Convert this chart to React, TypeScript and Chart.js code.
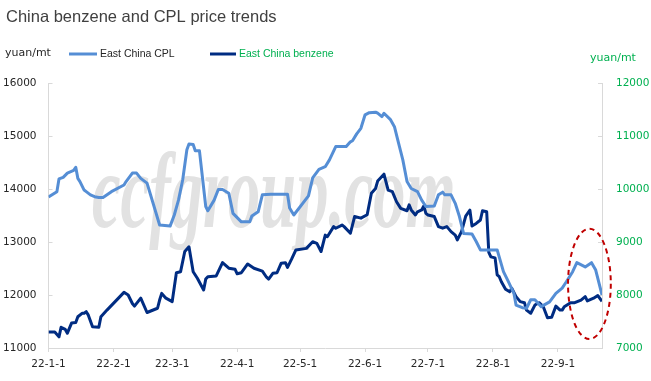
import React, { useEffect, useRef } from "react";
import { Chart, registerables } from "chart.js";

Chart.register(...registerables);

// x values are days counted from 2022-01-01
const monthTickDays = [0, 31, 59, 90, 120, 151, 181, 212, 243];
const monthTickLabels = ["22-1-1", "22-2-1", "22-3-1", "22-4-1", "22-5-1", "22-6-1", "22-7-1", "22-8-1", "22-9-1"];

const cplDays = [0, 4, 5, 7, 9, 12, 13, 14, 15, 17, 18, 20, 22, 24, 26, 30, 36, 37, 40, 42, 44, 47, 53, 58, 60, 62, 64, 66, 67, 69, 70, 72, 75, 76, 79, 81, 83, 86, 88, 92, 96, 97, 100, 102, 106, 114, 115, 117, 124, 126, 129, 132, 134, 137, 142, 144, 145, 147, 149, 151, 153, 156, 157, 159, 160, 163, 165, 167, 169, 171, 173, 176, 178, 180, 184, 186, 188, 189, 192, 194, 196, 198, 202, 204, 206, 214, 217, 219, 222, 223, 226, 228, 230, 232, 235, 239, 242, 245, 247, 250, 252, 256, 259, 261, 264];
const cplValues = [13850, 13950, 14190, 14220, 14300, 14350, 14410, 14200, 14140, 13980, 13950, 13890, 13855, 13840, 13840, 13950, 14075, 14140, 14300, 14300, 14200, 14110, 13320, 13300, 13510, 13790, 14170, 14740, 14850, 14840, 14720, 14720, 13670, 13590, 13790, 13990, 13990, 13920, 13540, 13380, 13380, 13490, 13570, 13890, 13900, 13900, 13640, 13510, 13870, 14210, 14370, 14420, 14550, 14800, 14800, 14890, 14910, 15040, 15145, 15400, 15440, 15450, 15430, 15365, 15430, 15315, 15175, 14860, 14550, 14140, 14010, 13950, 13790, 13670, 13680, 13890, 13940, 13890, 13890, 13730, 13480, 13160, 13150, 13010, 12850, 12850, 12440, 12280, 12030, 11810, 11760, 11750, 11910, 11910, 11780, 11870, 12030, 12130, 12250, 12440, 12610, 12530, 12610, 12470, 12000];

const benzeneDays = [0, 3, 5, 6, 8, 9, 11, 13, 14, 16, 17, 18, 19, 21, 24, 25, 28, 36, 38, 40, 41, 44, 47, 52, 53, 54, 56, 59, 61, 63, 65, 67, 69, 71, 74, 75, 76, 80, 83, 86, 89, 90, 92, 95, 98, 102, 104, 105, 107, 109, 111, 113, 114, 116, 118, 123, 126, 128, 130, 132, 133, 136, 137, 140, 141, 144, 146, 149, 152, 154, 156, 157, 160, 162, 164, 166, 168, 171, 172, 173, 175, 176, 178, 179, 180, 181, 184, 186, 188, 190, 192, 194, 195, 197, 199, 201, 202, 204, 206, 207, 209, 210, 211, 213, 214, 215, 216, 218, 220, 221, 223, 225, 227, 228, 230, 232, 234, 236, 238, 240, 242, 244, 245, 246, 249, 251, 254, 256, 257, 260, 262, 264];
const benzeneValues = [7300, 7300, 7210, 7390, 7350, 7280, 7470, 7480, 7590, 7655, 7655, 7685, 7620, 7400, 7390, 7590, 7720, 8050, 8000, 7840, 7790, 7940, 7670, 7750, 7905, 8030, 7940, 7875, 8420, 8440, 8820, 8910, 8440, 8315, 8095, 8300, 8345, 8360, 8610, 8505, 8485, 8400, 8420, 8585, 8505, 8450, 8335, 8300, 8410, 8420, 8600, 8610, 8520, 8680, 8850, 8880, 9005, 8975, 8820, 9130, 9100, 9290, 9260, 9320, 9290, 9165, 9480, 9450, 9515, 9920, 10010, 10150, 10280, 9980, 9950, 9760, 9635, 9590, 9700, 9605, 9510, 9570, 9605, 9680, 9540, 9510, 9480, 9290, 9260, 9290, 9195, 9130, 9040, 9195, 9490, 9600, 9300, 9350, 9415, 9590, 9570, 8805, 8720, 8700, 8380, 8345, 8250, 8110, 8060, 8125, 7970, 7875, 7855, 7715, 7655, 7810, 7855, 7780, 7570, 7580, 7790, 7715, 7715, 7780, 7855, 7855, 7905, 7970, 7890, 7940, 7990, 7880];

// highlighted region (dashed ellipse), in axis units: centre day, left-axis value, radii
const highlight = { day: 258, value: 12210, rDays: 10.2, rValue: 1040 };

const CPL_COLOR = "#558ED5";
const BZ_COLOR = "#002C82";
const GREEN = "#00B050";
const AXIS_GRAY = "#D9D9D9";

const decorPlugin = {
  id: "decor",
  beforeDatasetsDraw(chart: any) {
    const { ctx, chartArea } = chart;
    // watermark
    ctx.save();
    ctx.font = "italic bold 108px 'Liberation Serif', serif";
    ctx.fillStyle = "#E2E2E2";
    const text = "ccfgroup.com";
    const w = ctx.measureText(text).width;
    const targetW = chartArea.width * 0.657;
    const cx = chartArea.left + chartArea.width * 0.407;
    const by = chartArea.top + chartArea.height * 0.543;
    ctx.translate(cx, by);
    ctx.scale(targetW / w, 1);
    ctx.textAlign = "center";
    ctx.textBaseline = "alphabetic";
    ctx.fillText(text, 0, 0);
    ctx.restore();

    // inward tick marks on y axes
    ctx.save();
    ctx.strokeStyle = AXIS_GRAY;
    ctx.lineWidth = 1;
    const yl = chart.scales.y;
    const yr = chart.scales.y1;
    yl.ticks.forEach((t: any) => {
      const py = Math.round(yl.getPixelForValue(t.value)) + 0.5;
      ctx.beginPath();
      ctx.moveTo(chartArea.left, py);
      ctx.lineTo(chartArea.left + 4, py);
      ctx.stroke();
    });
    yr.ticks.forEach((t: any) => {
      const py = Math.round(yr.getPixelForValue(t.value)) + 0.5;
      ctx.beginPath();
      ctx.moveTo(chartArea.right, py);
      ctx.lineTo(chartArea.right - 4, py);
      ctx.stroke();
    });
    ctx.restore();
  },
  afterDatasetsDraw(chart: any) {
    const { ctx } = chart;
    const xs = chart.scales.x;
    const ys = chart.scales.y;
    const cx = xs.getPixelForValue(highlight.day);
    const cy = ys.getPixelForValue(highlight.value);
    const rx = Math.abs(xs.getPixelForValue(highlight.day + highlight.rDays) - cx);
    const ry = Math.abs(ys.getPixelForValue(highlight.value + highlight.rValue) - cy);
    ctx.save();
    ctx.strokeStyle = "#C00000";
    ctx.lineWidth = 2;
    ctx.setLineDash([5, 4]);
    ctx.beginPath();
    ctx.ellipse(cx, cy, rx, ry, 0, 0, Math.PI * 2);
    ctx.stroke();
    ctx.restore();
  },
  afterDraw(chart: any) {
    const { ctx } = chart;
    ctx.save();
    ctx.textBaseline = "middle";
    ctx.textAlign = "left";
    // title
    ctx.font = "16.5px 'Liberation Sans', sans-serif";
    ctx.fillStyle = "#404040";
    ctx.fillText("China benzene and CPL price trends", 6, 17);
    // unit labels
    ctx.font = "11px 'DejaVu Sans', sans-serif";
    ctx.fillStyle = "#262626";
    ctx.fillText("yuan/mt", 5, 53);
    ctx.fillStyle = GREEN;
    ctx.fillText("yuan/mt", 590, 58);
    // legend
    const ds = chart.data.datasets;
    const items = [
      { x0: 69, x1: 97, tx: 100, textColor: "#262626" },
      { x0: 210, x1: 236, tx: 239, textColor: GREEN },
    ];
    ctx.font = "10.5px 'Liberation Sans', sans-serif";
    items.forEach((it, i) => {
      ctx.strokeStyle = ds[i].borderColor;
      ctx.lineWidth = 3;
      ctx.beginPath();
      ctx.moveTo(it.x0, 54);
      ctx.lineTo(it.x1, 54);
      ctx.stroke();
      ctx.fillStyle = it.textColor;
      ctx.fillText(ds[i].label, it.tx, 54);
    });
    ctx.restore();
  },
};

export default function App() {
  const canvasRef = useRef<HTMLCanvasElement | null>(null);

  useEffect(() => {
    if (!canvasRef.current) return;
    const chart = new Chart(canvasRef.current, {
      type: "line",
      data: {
        datasets: [
          {
            label: "East China CPL",
            data: cplDays.map((d, i) => ({ x: d, y: cplValues[i] })),
            borderColor: CPL_COLOR,
            backgroundColor: CPL_COLOR,
            borderWidth: 3,
            pointRadius: 0,
            tension: 0,
            borderJoinStyle: "round",
            yAxisID: "y",
          },
          {
            label: "East China benzene",
            data: benzeneDays.map((d, i) => ({ x: d, y: benzeneValues[i] })),
            borderColor: BZ_COLOR,
            backgroundColor: BZ_COLOR,
            borderWidth: 3,
            pointRadius: 0,
            tension: 0,
            borderJoinStyle: "round",
            yAxisID: "y1",
          },
        ],
      },
      options: {
        animation: false,
        responsive: true,
        maintainAspectRatio: false,
        layout: { padding: { top: 83, left: 0, right: 0, bottom: 0 } },
        plugins: {
          legend: { display: false },
          title: { display: false },
          tooltip: { enabled: false },
        },
        scales: {
          x: {
            type: "linear",
            min: 0,
            max: 264,
            afterBuildTicks: (scale: any) => {
              scale.ticks = monthTickDays.map((v) => ({ value: v }));
            },
            afterFit: (scale: any) => {
              scale.height = 33;
            },
            ticks: {
              autoSkip: false,
              maxRotation: 0,
              padding: 6,
              color: "#262626",
              font: { family: "'DejaVu Sans', sans-serif", size: 10.5 },
              callback: (value: any) => {
                const idx = monthTickDays.indexOf(Number(value));
                return idx >= 0 ? monthTickLabels[idx] : "";
              },
            },
            grid: { display: true, drawOnChartArea: false, drawTicks: true, tickLength: 4, color: AXIS_GRAY },
            border: { display: true, color: AXIS_GRAY },
          },
          y: {
            type: "linear",
            position: "left",
            min: 11000,
            max: 16000,
            afterFit: (scale: any) => {
              scale.width = 48.5;
            },
            ticks: {
              stepSize: 1000,
              padding: 12,
              color: "#262626",
              font: { family: "'DejaVu Sans', sans-serif", size: 10.5 },
              callback: (value: any) => String(value),
            },
            grid: { display: false, drawTicks: false },
            border: { display: true, color: AXIS_GRAY },
          },
          y1: {
            type: "linear",
            position: "right",
            min: 7000,
            max: 12000,
            afterFit: (scale: any) => {
              scale.width = 49;
            },
            ticks: {
              stepSize: 1000,
              padding: 14,
              color: GREEN,
              font: { family: "'DejaVu Sans', sans-serif", size: 10.5 },
              callback: (value: any) => String(value),
            },
            grid: { display: false, drawTicks: false },
            border: { display: true, color: AXIS_GRAY },
          },
        },
      },
      plugins: [decorPlugin],
    });
    return () => chart.destroy();
  }, []);

  return (
    <div style={{ position: "absolute", left: 0, top: 0, width: 651, height: 381, background: "#fff" }}>
      <canvas ref={canvasRef} />
    </div>
  );
}
